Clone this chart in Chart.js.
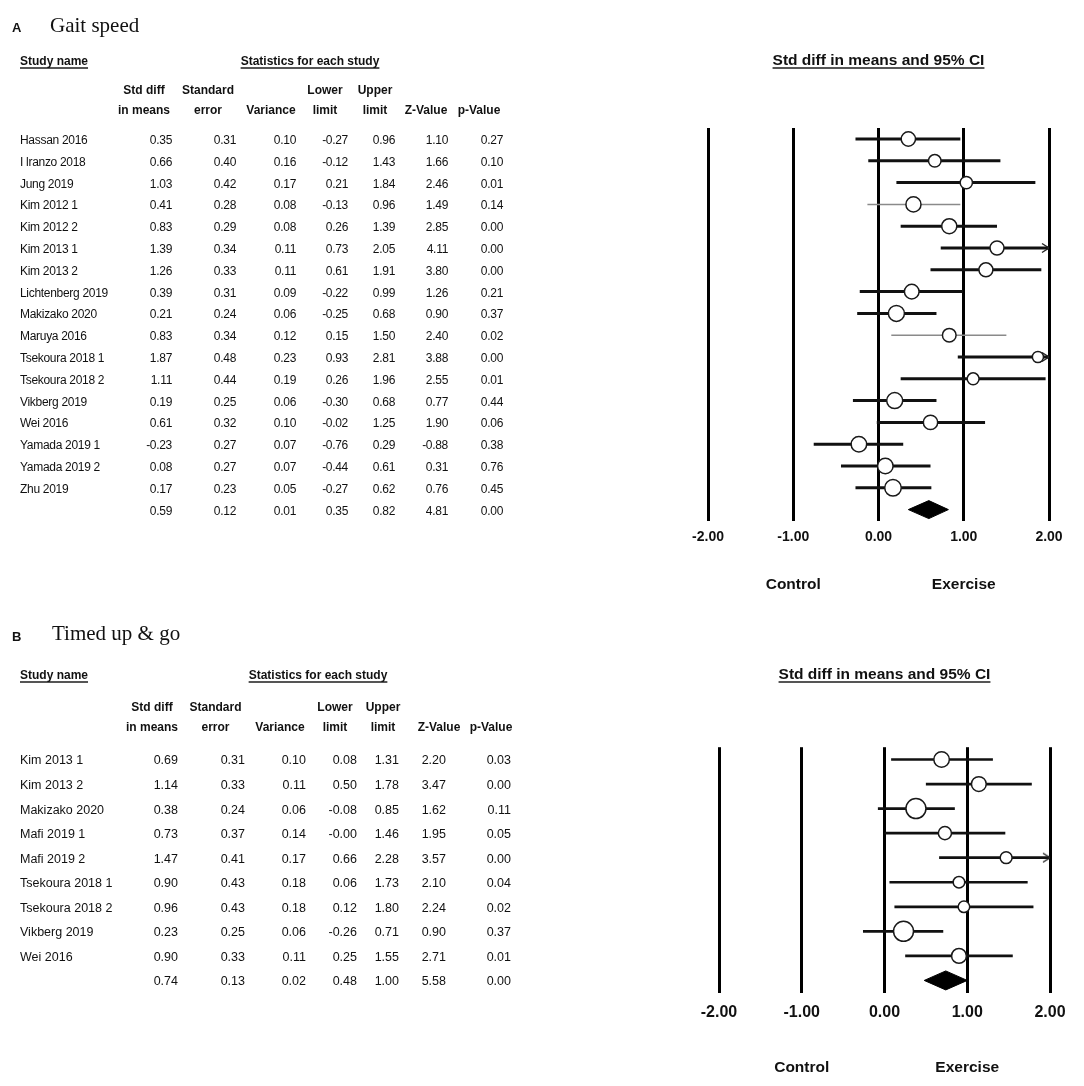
<!DOCTYPE html>
<html><head><meta charset="utf-8">
<script src="https://cdn.jsdelivr.net/npm/chart.js@4.4.1/dist/chart.umd.min.js"></script>
<style>
html,body{margin:0;padding:0;background:#fff;}
#page{position:relative;width:1084px;height:1086px;overflow:hidden;background:#fff;font-family:"Liberation Sans",Arial,sans-serif;color:#111;}
#page canvas{position:absolute;left:0;}
.t{position:absolute;white-space:nowrap;line-height:1;color:#111;}
.u{text-decoration:underline;text-decoration-thickness:2px;text-underline-offset:2px;text-decoration-color:#555;}
</style></head><body><div id="page">
<canvas id="cA" width="1084" height="600" style="top:0px"></canvas>
<canvas id="cB" width="1084" height="486" style="top:600px"></canvas>
</div>
<script>
// ---------------- Panel A: Gait speed ----------------
const studiesA = ["Hassan 2016","I lranzo 2018","Jung 2019","Kim 2012 1","Kim 2012 2","Kim 2013 1","Kim 2013 2","Lichtenberg 2019","Makizako 2020","Maruya 2016","Tsekoura 2018 1","Tsekoura 2018 2","Vikberg 2019","Wei 2016","Yamada 2019 1","Yamada 2019 2","Zhu 2019"];
const estA = [0.35,0.66,1.03,0.41,0.83,1.39,1.26,0.39,0.21,0.83,1.87,1.11,0.19,0.61,-0.23,0.08,0.17];
const seA  = [0.31,0.40,0.42,0.28,0.29,0.34,0.33,0.31,0.24,0.34,0.48,0.44,0.25,0.32,0.27,0.27,0.23];
const varA = [0.10,0.16,0.17,0.08,0.08,0.11,0.11,0.09,0.06,0.12,0.23,0.19,0.06,0.10,0.07,0.07,0.05];
const lowA = [-0.27,-0.12,0.21,-0.13,0.26,0.73,0.61,-0.22,-0.25,0.15,0.93,0.26,-0.30,-0.02,-0.76,-0.44,-0.27];
const upA  = [0.96,1.43,1.84,0.96,1.39,2.05,1.91,0.99,0.68,1.50,2.81,1.96,0.68,1.25,0.29,0.61,0.62];
const zA   = [1.10,1.66,2.46,1.49,2.85,4.11,3.80,1.26,0.90,2.40,3.88,2.55,0.77,1.90,-0.88,0.31,0.76];
const pA   = [0.27,0.10,0.01,0.14,0.00,0.00,0.00,0.21,0.37,0.02,0.00,0.01,0.44,0.06,0.38,0.76,0.45];
const summaryA = [0.59,0.12,0.01,0.35,0.82,4.81,0.00];

// ---------------- Panel B: Timed up & go ----------------
const studiesB = ["Kim 2013 1","Kim 2013 2","Makizako 2020","Mafi 2019 1","Mafi 2019 2","Tsekoura 2018 1","Tsekoura 2018 2","Vikberg 2019","Wei 2016"];
const estB = [0.69,1.14,0.38,0.73,1.47,0.90,0.96,0.23,0.90];
const seB  = [0.31,0.33,0.24,0.37,0.41,0.43,0.43,0.25,0.33];
const varB = [0.10,0.11,0.06,0.14,0.17,0.18,0.18,0.06,0.11];
const lowB = [0.08,0.50,-0.08,-0.00,0.66,0.06,0.12,-0.26,0.25];
const upB  = [1.31,1.78,0.85,1.46,2.28,1.73,1.80,0.71,1.55];
const zB   = [2.20,3.47,1.62,1.95,3.57,2.10,2.24,0.90,2.71];
const pB   = [0.03,0.00,0.11,0.05,0.00,0.04,0.02,0.37,0.01];
const summaryB = [0.74,0.13,0.02,0.48,1.00,5.58,0.00];

// ---------------- shared labels ----------------
const xTickValues = [-2,-1,0,1,2];
const xTickLabels = ["-2.00","-1.00","0.00","1.00","2.00"];
const sideLabels = ["Control","Exercise"];
const sideLabelValues = [-1,1];
const headerTop = ["Std diff","Standard","","Lower","Upper","",""];
const headerBottom = ["in means","error","Variance","limit","limit","Z-Value","p-Value"];

// ---------------- layout / style (not data) ----------------
const thinLinesA = ["Kim 2012 1","Maruya 2016"];
const panels = [
  {canvasId:'cA', top:0, height:600, letter:'A', title:'Gait speed',
   names:studiesA, cols:[estA,seA,varA,lowA,upA,zA,pA], summary:summaryA, thin:thinLinesA,
   plotLeft:708, plotRight:1049, plotTop:128.1, rowH:21.8,
   tickFont:14, tickPad:8, lineW:3, rK:3.2, tau2:0.1, diamondPx:9,
   letterPos:[12,27], titlePos:[50,25], headY:61, colHeadY:[90,110],
   headCenters:[144,208,271,325,375,426,479], numRight:[172,236,296,348,395,448,503],
   nameLeft:20, statsCenter:310, rowFont:'12px', rowLS:'-0.3px', sideY:584},
  {canvasId:'cB', top:600, height:486, letter:'B', title:'Timed up & go',
   names:studiesB, cols:[estB,seB,varB,lowB,upB,zB,pB], summary:summaryB, thin:[],
   plotLeft:719, plotRight:1050, plotTop:747.2, rowH:24.55,
   tickFont:16, tickPad:10, lineW:2.7, rK:2.45, tau2:0, diamondPx:9.5,
   letterPos:[12,636], titlePos:[52,633], headY:675, colHeadY:[707,727],
   headCenters:[152,215.5,280,335,383,439,491], numRight:[178,245,306,357,399,446,511],
   nameLeft:20, statsCenter:318, rowFont:'12.5px', rowLS:'0px', sideY:1067}
];

Chart.defaults.font.family = '"Liberation Sans", Arial, sans-serif';
Chart.defaults.color = '#111';

function fmt(v){ return (Object.is(v,-0) ? '-' : '') + v.toFixed(2); }

function makeArrow(){
  const c = document.createElement('canvas'); c.width = 18; c.height = 12;
  const g = c.getContext('2d'); g.strokeStyle = '#222'; g.lineWidth = 1.4;
  g.beginPath(); g.moveTo(2,1.5); g.lineTo(9,6); g.lineTo(2,10.5); g.stroke();
  return c;
}
const arrowImg = makeArrow();
const page = document.getElementById('page');

function addText(txt, x, y, o){
  const d = document.createElement('div');
  d.className = 't' + (o.underline ? ' u' : '');
  d.textContent = txt;
  d.style.left = x + 'px'; d.style.top = y + 'px';
  d.style.font = o.font;
  if (o.ls) d.style.letterSpacing = o.ls;
  const tx = o.align === 'right' ? '-100%' : (o.align === 'center' ? '-50%' : '0');
  d.style.transform = 'translate(' + tx + ',-50%)';
  page.appendChild(d);
}

function buildPanel(p){
  const n = p.names.length;
  const xMin = xTickValues[0], xMax = xTickValues[xTickValues.length-1];
  const est = p.cols[0], vr = p.cols[2], lo = p.cols[3], hi = p.cols[4];
  const datasets = [];
  datasets.push({type:'scatter', data: est.map((v,i)=>({x:v,y:i})),
    pointRadius: vr.map(v => p.rK*Math.sqrt(1/(v+p.tau2))),
    pointBackgroundColor:'#fff', backgroundColor:'#fff', pointBorderColor:'#1a1a1a', borderColor:'#1a1a1a',
    pointBorderWidth:1.5, order:0});
  const arrowIdx = hi.map((v,i)=> v > xMax ? i : -1).filter(i => i >= 0);
  datasets.push({type:'scatter', data: arrowIdx.map(i=>({x:xMax,y:i})), pointStyle: arrowImg, pointRadius:5, order:1});
  p.names.forEach((nm,i)=>{
    const thin = p.thin.includes(nm);
    datasets.push({type:'line', data:[{x:lo[i],y:i},{x:Math.min(hi[i],xMax),y:i}],
      borderColor: thin ? '#8a8a8a' : '#111', borderWidth: thin ? 1.5 : p.lineW,
      pointRadius:0, fill:false, order:2});
  });
  const s = p.summary, h = p.diamondPx / p.rowH;
  datasets.push({type:'line', data:[{x:s[3],y:n},{x:s[0],y:n-h},{x:s[4],y:n},{x:s[0],y:n+h},{x:s[3],y:n}],
    borderColor:'#000', borderWidth:1, backgroundColor:'#000', fill:'shape', pointRadius:0, order:2});

  const padTop = p.plotTop - p.top;
  const axisH = 30;
  const padBottom = p.height - padTop - (n+1)*p.rowH - axisH;
  const chart = new Chart(document.getElementById(p.canvasId), {
    type:'scatter',
    data:{datasets},
    options:{
      responsive:false, animation:false, events:[],
      layout:{padding:{left:p.plotLeft, right:1084-p.plotRight, top:padTop, bottom:padBottom}},
      plugins:{legend:{display:false}, tooltip:{enabled:false}},
      scales:{
        x:{type:'linear', min:xMin, max:xMax, position:'bottom',
           afterBuildTicks: sc => { sc.ticks = xTickValues.map(v=>({value:v})); },
           afterFit: sc => { sc.height = axisH; },
           ticks:{callback:(v,i)=>xTickLabels[i], font:{size:p.tickFont, weight:'bold'}, color:'#111',
                  padding:p.tickPad, maxRotation:0, autoSkip:false},
           grid:{color:'#000', lineWidth:3, drawTicks:false},
           border:{display:false}},
        y:{type:'linear', min:-0.5, max:n+0.5, reverse:true, display:false}
      }
    }
  });

  const ys = i => chart.scales.y.getPixelForValue(i) + p.top + 1;
  const xs = v => chart.scales.x.getPixelForValue(v);
  const bold12 = 'bold 12px "Liberation Sans", Arial, sans-serif';
  const rowF = p.rowFont + ' "Liberation Sans", Arial, sans-serif';

  addText(p.letter, p.letterPos[0], p.letterPos[1], {font:'bold 13px "Liberation Sans", Arial, sans-serif'});
  addText(p.title, p.titlePos[0], p.titlePos[1], {font:'21px "Liberation Serif", "Times New Roman", serif'});
  addText('Study name', p.nameLeft, p.headY, {font:bold12, underline:true});
  addText('Statistics for each study', p.statsCenter, p.headY, {font:bold12, underline:true, align:'center'});
  addText('Std diff in means and 95% CI', (chart.chartArea.left+chart.chartArea.right)/2, p.headY-1,
          {font:'bold 15.5px "Liberation Sans", Arial, sans-serif', underline:true, align:'center'});
  headerTop.forEach((t,j)=>{ if (t) addText(t, p.headCenters[j], p.colHeadY[0], {font:bold12, align:'center'}); });
  headerBottom.forEach((t,j)=>{ addText(t, p.headCenters[j], p.colHeadY[1], {font:bold12, align:'center'}); });
  p.names.forEach((nm,i)=>{
    const y = ys(i);
    addText(nm, p.nameLeft, y, {font:rowF, ls:p.rowLS});
    p.cols.forEach((col,j)=> addText(fmt(col[i]), p.numRight[j], y, {font:rowF, ls:p.rowLS, align:'right'}));
  });
  p.summary.forEach((v,j)=> addText(fmt(v), p.numRight[j], ys(n), {font:rowF, ls:p.rowLS, align:'right'}));
  sideLabels.forEach((t,k)=> addText(t, xs(sideLabelValues[k]), p.sideY,
          {font:'bold 15.5px "Liberation Sans", Arial, sans-serif', align:'center'}));
}
panels.forEach(buildPanel);
</script>
</body></html>
